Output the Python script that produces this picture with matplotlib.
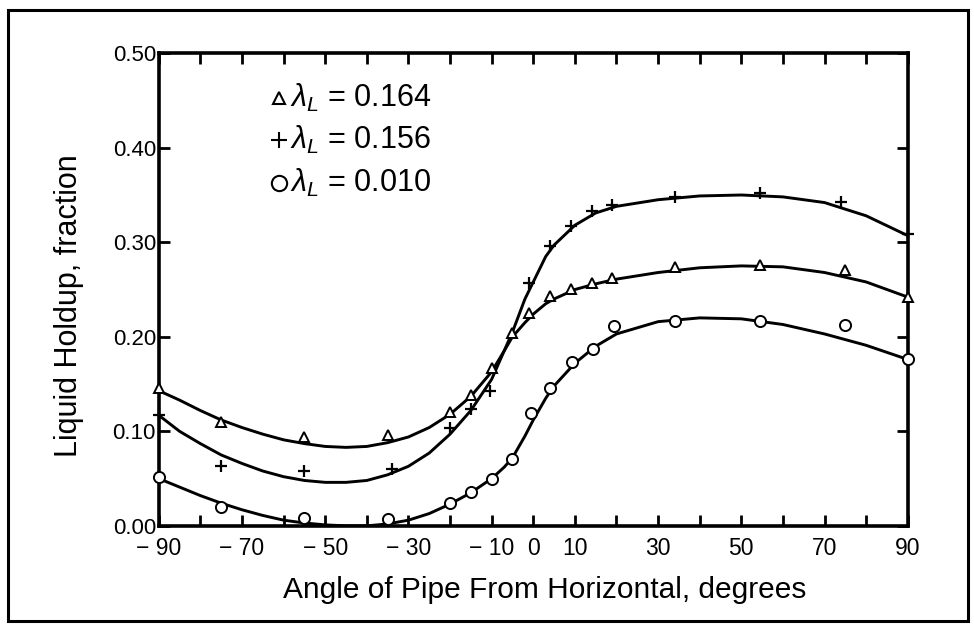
import numpy as np
import matplotlib
matplotlib.use("Agg")
import matplotlib.pyplot as plt
from matplotlib.patches import Rectangle

plt.rcParams['font.family'] = ['Liberation Sans', 'DejaVu Sans']
plt.rcParams['mathtext.fontset'] = 'custom'
plt.rcParams['mathtext.it'] = 'Liberation Sans:italic'
plt.rcParams['mathtext.rm'] = 'Liberation Sans'

# ---- measured points ----
tri_x = [-90, -75, -55, -35, -20, -15, -10, -5, -1, 4, 9, 14, 19, 34, 54.5, 75, 90]
tri_y = [0.146, 0.110, 0.094, 0.096, 0.120, 0.138, 0.167, 0.204, 0.225, 0.243,
         0.251, 0.257, 0.262, 0.274, 0.276, 0.271, 0.242]

plus_x = [-90, -75, -55, -34, -20, -15, -10.5, -1, 4, 9, 14, 19, 34, 54.5, 74, 90]
plus_y = [0.117, 0.063, 0.058, 0.060, 0.103, 0.124, 0.143, 0.257, 0.296, 0.317,
          0.333, 0.339, 0.348, 0.352, 0.343, 0.309]

circ_x = [-90, -75, -55, -35, -20, -15, -10, -5, -0.5, 4, 9.4, 14.3, 19.3, 34, 54.5, 75, 90]
circ_y = [0.052, 0.020, 0.008, 0.007, 0.024, 0.036, 0.050, 0.071, 0.119, 0.146,
          0.173, 0.187, 0.211, 0.217, 0.217, 0.212, 0.176]

# ---- fitted curves ----
curve_x = [-90, -85, -80, -75, -70, -65, -60, -55, -50, -45, -40, -35, -30, -25, -20,
           -15, -10, -7, -5, -2, 0, 3, 5, 10, 15, 20, 30, 40, 50, 60, 70, 80, 90]
tri_curve = [0.143, 0.133, 0.122, 0.112, 0.104, 0.097, 0.091, 0.087, 0.084, 0.083,
             0.084, 0.088, 0.094, 0.104, 0.118, 0.137, 0.163, 0.185, 0.200, 0.215,
             0.224, 0.235, 0.240, 0.250, 0.256, 0.261, 0.268, 0.273, 0.275, 0.274,
             0.268, 0.258, 0.242]
plus_curve = [0.117, 0.100, 0.087, 0.075, 0.066, 0.058, 0.052, 0.048, 0.046, 0.046,
              0.048, 0.054, 0.063, 0.077, 0.097, 0.122, 0.155, 0.185, 0.205, 0.240,
              0.258, 0.285, 0.297, 0.318, 0.331, 0.338, 0.345, 0.349, 0.350, 0.348,
              0.342, 0.328, 0.307]
circ_curve = [0.050, 0.041, 0.032, 0.024, 0.017, 0.011, 0.006, 0.003, 0.001, 0.000,
              0.000, 0.002, 0.006, 0.013, 0.023, 0.035, 0.050, 0.062, 0.072, 0.095,
              0.112, 0.135, 0.148, 0.172, 0.190, 0.203, 0.216, 0.220, 0.219, 0.213,
              0.203, 0.191, 0.176]

xtick_pos = list(range(-90, 91, 10))
xtick_lbl = {-90: "\u2212 90", -70: "\u2212 70", -50: "\u2212 50", -30: "\u2212 30",
             -10: "\u2212 10", 0: "0", 10: "10", 30: "30", 50: "50", 70: "70", 90: "90"}
ytick_pos = [0.0, 0.1, 0.2, 0.3, 0.4, 0.5]
ytick_lbl = ["0.00", "0.10", "0.20", "0.30", "0.40", "0.50"]

legend_lbl = ["0.164", "0.156", "0.010"]

fig = plt.figure(figsize=(9.74, 6.26), dpi=100)
ax = fig.add_axes([0.163, 0.160, 0.769, 0.755])

lw = 2.1
ax.plot(curve_x, tri_curve, color='black', lw=lw, solid_capstyle='round', zorder=2)
ax.plot(curve_x, plus_curve, color='black', lw=lw, solid_capstyle='round', zorder=2)
ax.plot(curve_x, circ_curve, color='black', lw=lw, solid_capstyle='round', zorder=2)

ax.plot(tri_x, tri_y, linestyle='none', marker='^', ms=7, mfc='white', mec='black',
        mew=1.4, zorder=3, clip_on=False)
ax.plot(plus_x, plus_y, linestyle='none', marker='+', ms=9, mec='black',
        mew=1.6, zorder=3, clip_on=False)
ax.plot(circ_x, circ_y, linestyle='none', marker='o', ms=8, mfc='white', mec='black',
        mew=1.4, zorder=3, clip_on=False)

ax.set_xlim(-90, 90)
ax.set_ylim(0, 0.5)
ax.set_xticks(xtick_pos)
ax.set_xticklabels([xtick_lbl.get(v, "") for v in xtick_pos])
ax.set_yticks(ytick_pos)
ax.set_yticklabels(ytick_lbl)
ax.tick_params(axis='both', direction='in', length=8, width=2,
               top=True, right=True)
ax.tick_params(axis='x', pad=8, labelsize=16.5)
ax.tick_params(axis='y', pad=2, labelsize=16)
for s in ax.spines.values():
    s.set_linewidth(2.6)

ax.set_xlabel("Angle of Pipe From Horizontal, degrees", fontsize=21.5)
ax.xaxis.set_label_coords(0.515, -0.107)
ax.set_ylabel("Liquid Holdup, fraction", fontsize=22)
ax.yaxis.set_label_coords(-0.100, 0.465)

# legend as text block
leg_y = [0.453, 0.408, 0.363]
mk = ['^', '+', 'o']
msz = [9, 11, 11]
for yv, m, s, lab in zip(leg_y, mk, msz, legend_lbl):
    ax.plot([-61], [yv], linestyle='none', marker=m,
            ms=s, mfc='white', mec='black', mew=1.5)
    ax.text(-58.4, yv, r"$\lambda_L$" + " = " + lab, fontsize=22,
            va='center', ha='left')

fig.patches.append(Rectangle((8/974, 5/626), (968-8)/974, (616-5)/626,
                             transform=fig.transFigure, fill=False,
                             edgecolor='black', linewidth=2.2))

fig.savefig("out.png", dpi=100)
